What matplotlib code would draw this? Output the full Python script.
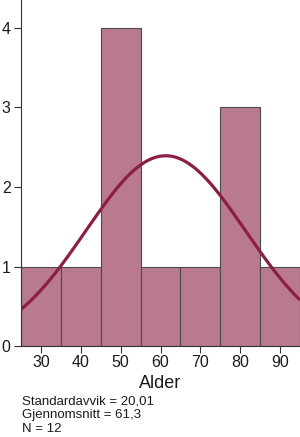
"""Histogram of age with a fitted normal curve."""

import numpy as np
import matplotlib.pyplot as plt

plt.rcParams["font.family"] = ["Liberation Sans", "DejaVu Sans"]

# data
bin_edges = [25, 35, 45, 55, 65, 75, 85, 95]
counts = [1, 1, 4, 1, 1, 3, 1]
x_ticks = [30, 40, 50, 60, 70, 80, 90]
y_ticks = [0, 1, 2, 3, 4]
std_dev = 20.01
mean = 61.3
n_obs = 12

BAR_COLOR = "#ba7a8e"
LINE_COLOR = "#8b1e48"
TEXT_COLOR = "#1a1a1a"


def main():
    fig = plt.figure(figsize=(3.0, 4.37), dpi=100)
    ax = fig.add_axes([0.07, 0.208, 0.93, 0.792])

    widths = np.diff(bin_edges)
    ax.bar(bin_edges[:-1], counts, width=widths, align="edge",
           color=BAR_COLOR, edgecolor="#4a4a4a", linewidth=0.8, zorder=2)

    # normal curve scaled to counts
    bw = widths[0]
    xs = np.linspace(bin_edges[0], bin_edges[-1], 300)
    ys = n_obs * bw / (std_dev * np.sqrt(2 * np.pi)) * np.exp(-0.5 * ((xs - mean) / std_dev) ** 2)
    ax.plot(xs, ys, color=LINE_COLOR, linewidth=2.3, zorder=3, solid_capstyle="butt")

    ax.set_xlim(bin_edges[0], bin_edges[-1])
    ax.set_ylim(0, 4.35)
    ax.set_xticks(x_ticks)
    ax.set_yticks(y_ticks)
    ax.tick_params(labelsize=11.5, length=5, width=0.8, color="#333333",
                   labelcolor=TEXT_COLOR)
    ax.tick_params(axis="x", pad=1.5)
    ax.tick_params(axis="y", pad=2.5)
    for s in ("top", "right"):
        ax.spines[s].set_visible(False)
    for s in ("left", "bottom"):
        ax.spines[s].set_linewidth(0.8)
        ax.spines[s].set_color("#333333")

    ax.set_xlabel("Alder", fontsize=13, labelpad=3.5, color=TEXT_COLOR)

    stats = [
        f"Standardavvik = {std_dev:.2f}".replace(".", ","),
        f"Gjennomsnitt = {mean:.1f}".replace(".", ","),
        f"N = {n_obs}",
    ]
    for i, line in enumerate(stats):
        fig.text(0.073, 1 - (401 + 14 * i) / 437, line, fontsize=9.5,
                 va="center", ha="left", color=TEXT_COLOR)

    fig.savefig("out.png", dpi=100)


if __name__ == "__main__":
    main()
